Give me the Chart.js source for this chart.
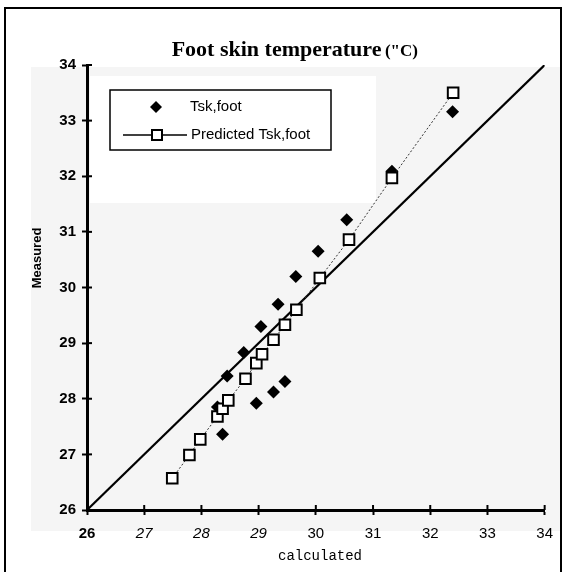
<!DOCTYPE html>
<html><head><meta charset="utf-8">
<script src="https://cdn.jsdelivr.net/npm/chart.js@4"></script>
<style>html,body{margin:0;padding:0;background:#fff;} canvas{display:block;}</style>
</head><body>
<canvas id="c" width="563" height="572"></canvas>
<script>
// ---- data ----
const tickLabels = ['26','27','28','29','30','31','32','33','34'];
const predX = [27.49,27.79,27.98,28.28,28.37,28.47,28.77,28.96,29.06,29.26,29.46,29.66,30.07,30.58,31.33,32.40];
const predY = [26.57,26.99,27.27,27.68,27.82,27.97,28.36,28.64,28.80,29.06,29.33,29.60,30.17,30.86,31.97,33.50];
const measX = [28.28,28.37,28.96,29.26,29.46,28.45,28.74,29.04,29.34,29.65,30.04,30.54,31.33,32.39];
const measY = [27.85,27.36,27.92,28.12,28.31,28.41,28.83,29.30,29.70,30.20,30.65,31.22,32.09,33.16];
const identityX = [26,34];
const identityY = [26,34];
const seriesNames = ['Tsk,foot','Predicted Tsk,foot'];
const titleMain = 'Foot skin temperature';
const titleUnit = '("C)';
const xTitle = 'calculated';
const yTitle = 'Measured';

const toPts = (xs, ys) => xs.map((x, i) => ({x, y: ys[i]}));

const decor = {
  id: 'decor',
  beforeDraw(chart) {
    const ctx = chart.ctx;
    ctx.save();
    ctx.fillStyle = '#fff';
    ctx.fillRect(0, 0, chart.width, chart.height);
    ctx.fillStyle = '#f5f5f5';
    ctx.fillRect(31, 67, 532, 464);
    ctx.fillStyle = '#fff';
    ctx.fillRect(90, 76, 286, 127);
    ctx.restore();
  },
  afterDraw(chart) {
    const ctx = chart.ctx;
    const xs = chart.scales.x, ys = chart.scales.y;
    ctx.save();
    // inward tick marks
    ctx.strokeStyle = '#000';
    ctx.lineWidth = 2;
    ys.ticks.forEach(t => {
      const p = ys.getPixelForValue(t.value);
      ctx.beginPath(); ctx.moveTo(xs.left, p); ctx.lineTo(xs.left + 5, p); ctx.stroke();
    });
    xs.ticks.forEach(t => {
      const p = xs.getPixelForValue(t.value);
      ctx.beginPath(); ctx.moveTo(p, ys.bottom); ctx.lineTo(p, ys.bottom - 5); ctx.stroke();
    });
    // title
    ctx.fillStyle = '#000';
    ctx.textBaseline = 'alphabetic';
    const fMain = 'bold 22px "Liberation Serif", "Times New Roman", serif';
    const fUnit = 'bold 17px "Liberation Serif", "Times New Roman", serif';
    ctx.font = fMain;
    const w1 = ctx.measureText(titleMain + ' ').width;
    ctx.font = fUnit;
    const w2 = ctx.measureText(titleUnit).width;
    const tx = 418 - (w1 - 2) - w2;
    ctx.font = fMain;
    ctx.fillText(titleMain, tx, 56);
    ctx.font = fUnit;
    ctx.fillText(titleUnit, tx + w1 - 2, 56);
    // axis titles
    ctx.font = '14px "Liberation Mono", "Courier New", monospace';
    ctx.textAlign = 'center';
    ctx.textBaseline = 'middle';
    ctx.fillText(xTitle, 320, 556);
    ctx.save();
    ctx.translate(37, 258);
    ctx.rotate(-Math.PI / 2);
    ctx.font = 'bold 13px "Liberation Sans", Arial, sans-serif';
    ctx.fillText(yTitle, 0, 0);
    ctx.restore();
    // legend
    ctx.fillStyle = '#fff';
    ctx.fillRect(110, 90, 221, 60);
    ctx.strokeStyle = '#000';
    ctx.lineWidth = 1.5;
    ctx.strokeRect(110, 90, 221, 60);
    ctx.fillStyle = '#000';
    ctx.beginPath();
    ctx.moveTo(156, 101); ctx.lineTo(162, 107); ctx.lineTo(156, 113); ctx.lineTo(150, 107); ctx.closePath();
    ctx.fill();
    ctx.lineWidth = 1.5;
    ctx.beginPath(); ctx.moveTo(123, 135); ctx.lineTo(187, 135); ctx.stroke();
    ctx.fillStyle = '#fff';
    ctx.fillRect(152, 130, 10, 10);
    ctx.lineWidth = 2;
    ctx.strokeRect(152, 130, 10, 10);
    ctx.fillStyle = '#000';
    ctx.textAlign = 'left';
    ctx.font = '15px "Liberation Sans", Arial, sans-serif';
    ctx.fillText(seriesNames[0], 190, 107);
    ctx.fillText(seriesNames[1], 191, 135);
    // frame
    ctx.fillStyle = '#fff';
    ctx.fillRect(561, 0, 2, chart.height);
    ctx.strokeStyle = '#000';
    ctx.lineWidth = 2;
    ctx.beginPath();
    ctx.moveTo(5, 572); ctx.lineTo(5, 8); ctx.lineTo(561, 8); ctx.lineTo(561, 572);
    ctx.stroke();
    ctx.restore();
  }
};

new Chart(document.getElementById('c'), {
  type: 'scatter',
  data: {
    datasets: [
      {
        label: seriesNames[1],
        data: toPts(predX, predY),
        showLine: true,
        borderColor: '#333',
        borderWidth: 1,
        borderDash: [2, 2],
        pointStyle: 'rect',
        pointRadius: 7.5,
        pointBackgroundColor: '#fff',
        pointBorderColor: '#000',
        pointBorderWidth: 2,
        order: 1
      },
      {
        label: seriesNames[0],
        data: toPts(measX, measY),
        pointStyle: 'rectRot',
        pointRadius: 6.5,
        pointBackgroundColor: '#000',
        pointBorderColor: '#000',
        pointBorderWidth: 0,
        order: 2
      },
      {
        label: 'identity',
        data: toPts(identityX, identityY),
        showLine: true,
        borderColor: '#000',
        borderWidth: 2.2,
        pointRadius: 0,
        order: 3
      }
    ]
  },
  options: {
    responsive: false,
    animation: false,
    devicePixelRatio: 1,
    layout: { padding: { left: 0, top: 65, right: 8, bottom: 0 } },
    plugins: { legend: { display: false }, tooltip: { enabled: false }, title: { display: false } },
    scales: {
      x: {
        type: 'linear', min: 26, max: 34,
        afterFit: s => { s.height = 62; },
        border: { display: true, color: '#000', width: 3 },
        grid: { drawOnChartArea: false, drawTicks: true, tickLength: 5, tickColor: '#000', tickWidth: 2 },
        ticks: {
          stepSize: 1, padding: 10, color: '#000',
          callback: (v, i) => tickLabels[i],
          font: c => ({
            family: '"Liberation Sans", Arial, sans-serif',
            size: 15,
            weight: c.index === 0 ? 'bold' : 'normal',
            style: (c.index >= 1 && c.index <= 3) ? 'italic' : 'normal'
          })
        }
      },
      y: {
        type: 'linear', min: 26, max: 34,
        afterFit: s => { s.width = 87; },
        border: { display: true, color: '#000', width: 3 },
        grid: { drawOnChartArea: false, drawTicks: true, tickLength: 5, tickColor: '#000', tickWidth: 2 },
        ticks: {
          stepSize: 1, padding: 6, color: '#000',
          callback: (v, i) => tickLabels[i],
          font: { family: '"Liberation Sans", Arial, sans-serif', size: 15, weight: 'bold' }
        }
      }
    }
  },
  plugins: [decor]
});
</script>
</body></html>
